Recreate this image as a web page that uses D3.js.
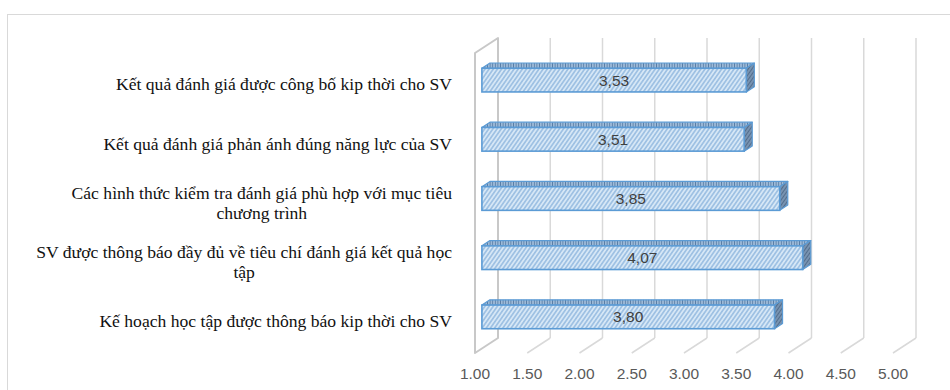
<!DOCTYPE html>
<html>
<head>
<meta charset="utf-8">
<script src="https://cdn.jsdelivr.net/npm/d3@7"></script>
<style>
  body { margin: 0; background: #fff; }
</style>
</head>
<body>
<svg id="chart" width="950" height="390"></svg>
<script>
// Criteria, top to bottom; "\n" marks where a label wraps.
const categories = [
  "Kết quả đánh giá được công bố kip thời cho SV",
  "Kết quả đánh giá phản ánh đúng năng lực của SV",
  "Các hình thức kiểm tra đánh giá phù hợp với mục tiêu\nchương trình",
  "SV được thông báo đầy đủ về tiêu chí đánh giá kết quả học\ntập",
  "Kế hoạch học tập được thông báo kip thời cho SV"
];
const values = [3.53, 3.51, 3.85, 4.07, 3.80];
const valueLabels = ["3,53", "3,51", "3,85", "4,07", "3,80"];
const tickValues = [1.0, 1.5, 2.0, 2.5, 3.0, 3.5, 4.0, 4.5, 5.0];
const tickLabels = ["1.00", "1.50", "2.00", "2.50", "3.00", "3.50", "4.00", "4.50", "5.00"];

const svg = d3.select("#chart");

// Front plane of the 3-D box, plus a depth vector toward the back wall.
const frontTop = 53, frontBottom = 353;
const depth = { x: 23, y: -15 };
const x = d3.scaleLinear().domain([1, 5]).range([475, 893]);
const y = d3.scaleBand().domain(categories).range([frontTop, frontBottom])
  .paddingInner(0.6).paddingOuter(0.334);
const tFront = 0.3, tBack = 0.65;   // bar depth span within the box

const defs = svg.append("defs");
function hatch(id, bg, fg, size, angle, w) {
  const p = defs.append("pattern").attr("id", id)
    .attr("patternUnits", "userSpaceOnUse")
    .attr("width", size).attr("height", size)
    .attr("patternTransform", `rotate(${angle})`);
  p.append("rect").attr("width", size).attr("height", size).attr("fill", bg);
  p.append("line").attr("x1", size / 2).attr("x2", size / 2)
    .attr("y1", 0).attr("y2", size)
    .attr("stroke", fg).attr("stroke-width", w);
}
hatch("hatchFront", "#d6e7f6", "#80acd9", 3.4, 35, 1.1);
hatch("hatchTop", "#a3bfdc", "#5a7ea6", 2.6, 0, 1);
hatch("hatchSide", "#7893b1", "#526d8c", 3, 35, 1);

const grid = svg.append("g");
// Back-wall gridlines
grid.selectAll("line.back").data(tickValues.slice(1)).join("line")
  .attr("class", "back")
  .attr("x1", d => x(d) + depth.x).attr("x2", d => x(d) + depth.x)
  .attr("y1", frontTop + depth.y).attr("y2", frontBottom + depth.y)
  .attr("stroke", "#d9d9d9").attr("stroke-width", 1.5);
// Floor lines running from the front edge back to the wall
grid.selectAll("line.floor").data(tickValues.slice(1)).join("line")
  .attr("class", "floor")
  .attr("x1", d => x(d)).attr("y1", frontBottom)
  .attr("x2", d => x(d) + depth.x).attr("y2", frontBottom + depth.y)
  .attr("stroke", "#d9d9d9").attr("stroke-width", 1.5);
// Left side wall outline at the axis minimum
const x0 = x(tickValues[0]);
grid.append("path")
  .attr("d", `M${x0},${frontBottom} L${x0},${frontTop} L${x0 + depth.x},${frontTop + depth.y}
              L${x0 + depth.x},${frontBottom + depth.y} Z`)
  .attr("fill", "none").attr("stroke", "#c8c8c8").attr("stroke-width", 2)
  .attr("stroke-linejoin", "round");

// Bars
const data = categories.map((c, i) => ({ c, v: values[i], label: valueLabels[i] }));
const bars = svg.append("g").selectAll("g").data(data).join("g");
const fx = tFront * depth.x, fy = tFront * depth.y;
const bx = tBack * depth.x, by = tBack * depth.y;
const h = y.bandwidth();

bars.append("path")   // top face
  .attr("d", d => {
    const l = x(1) + fx, r = x(d.v) + fx, t = y(d.c) + fy;
    return `M${l},${t} L${r},${t} L${r + bx - fx},${t + by - fy} L${l + bx - fx},${t + by - fy} Z`;
  })
  .attr("fill", "url(#hatchTop)").attr("stroke", "#5b9bd5").attr("stroke-width", 1.2)
  .attr("stroke-linejoin", "round");
bars.append("path")   // right side face
  .attr("d", d => {
    const r = x(d.v) + fx, t = y(d.c) + fy;
    return `M${r},${t} L${r + bx - fx},${t + by - fy} L${r + bx - fx},${t + h + by - fy} L${r},${t + h} Z`;
  })
  .attr("fill", "url(#hatchSide)").attr("stroke", "#5b9bd5").attr("stroke-width", 1.2)
  .attr("stroke-linejoin", "round");
bars.append("rect")   // front face
  .attr("x", x(1) + fx).attr("y", d => y(d.c) + fy)
  .attr("width", d => x(d.v) - x(1)).attr("height", h)
  .attr("fill", "url(#hatchFront)").attr("stroke", "#5b9bd5").attr("stroke-width", 1.6);

bars.append("text")
  .attr("x", d => x(1) + fx + (x(d.v) - x(1)) / 2)
  .attr("y", d => y(d.c) + fy + h / 2)
  .attr("dy", "0.36em")
  .attr("text-anchor", "middle")
  .attr("font-family", "'Liberation Sans', Arial, sans-serif")
  .attr("font-size", 15.5).attr("fill", "#404040")
  .text(d => d.label);

// Value axis labels along the front floor edge
svg.append("g").selectAll("text").data(tickValues).join("text")
  .attr("x", d => x(d)).attr("y", 379)
  .attr("text-anchor", "middle")
  .attr("font-family", "'Liberation Sans', Arial, sans-serif")
  .attr("font-size", 15.5).attr("fill", "#595959")
  .text((d, i) => tickLabels[i]);

// Category labels: wrapped lines centred as a block, right edge near the wall
const labelRight = 452, lineH = 20.5;
const catG = svg.append("g")
  .attr("font-family", "'Liberation Serif', 'Times New Roman', serif")
  .attr("font-size", 17.6).attr("fill", "#111");
categories.forEach(c => {
  const lines = c.split("\n");
  const t = catG.append("text").attr("text-anchor", "middle");
  const spans = lines.map(s => t.append("tspan").text(s));
  const maxW = d3.max(spans, s => s.node().getComputedTextLength());
  const cx = labelRight - maxW / 2;
  const cy = y(c) + h / 2 - (lines.length - 1) * lineH / 2;
  spans.forEach((s, i) => s.attr("x", cx).attr("y", cy + i * lineH).attr("dy", "0.33em"));
});

// Chart area border
svg.append("rect").attr("x", 7.5).attr("y", 14.5).attr("width", 970).attr("height", 400)
  .attr("fill", "none").attr("stroke", "#d9d9d9").attr("stroke-width", 1);
</script>
</body>
</html>
